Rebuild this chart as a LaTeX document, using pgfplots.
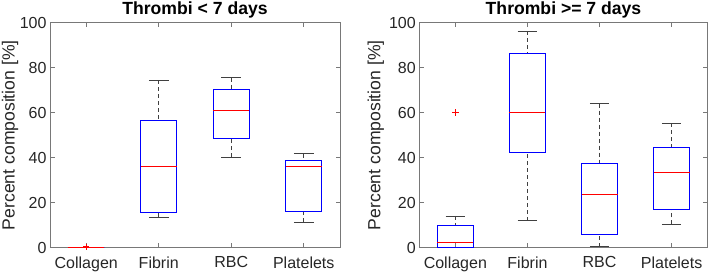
\documentclass[border=0pt]{standalone}
\usepackage{fontspec}
\setmainfont{Liberation Sans}
\usepackage{pgfplots}
\pgfplotsset{compat=1.18}
\usepgfplotslibrary{statistics}
\definecolor{axgray}{RGB}{120,120,120}
\definecolor{txtgray}{RGB}{38,38,38}
\pgfplotsset{
  boxplot/draw direction=y,
  boxplot/box extend=0.5,
  boxplot/whisker extend=0.27,
  boxplot/every box/.style={draw=blue, line width=0.8pt},
  boxplot/every median/.style={draw=red, line width=0.8pt},
  boxplot/draw/lower whisker/.code={%
    \draw[black!75, line width=0.6pt, dash pattern=on 4pt off 3pt]
      (boxplot cs:\pgfplotsboxplotvalue{lower whisker}) --
      (boxplot cs:\pgfplotsboxplotvalue{lower quartile});
    \draw[black!75, line width=0.6pt]
      (boxplot whisker cs:\pgfplotsboxplotvalue{lower whisker},0) --
      (boxplot whisker cs:\pgfplotsboxplotvalue{lower whisker},1);
  },
  boxplot/draw/upper whisker/.code={%
    \draw[black!75, line width=0.6pt, dash pattern=on 4pt off 3pt]
      (boxplot cs:\pgfplotsboxplotvalue{upper whisker}) --
      (boxplot cs:\pgfplotsboxplotvalue{upper quartile});
    \draw[black!75, line width=0.6pt]
      (boxplot whisker cs:\pgfplotsboxplotvalue{upper whisker},0) --
      (boxplot whisker cs:\pgfplotsboxplotvalue{upper whisker},1);
  },
  mybox/.style={
    scale only axis, height=225pt,
    xmin=0.5, xmax=4.5, ymin=0, ymax=100,
    xtick={1,2,3,4}, xticklabels={Collagen,Fibrin,RBC,Platelets},
    ytick={0,20,40,60,80,100},
    tick align=inside, major tick length=4.5pt,
    axis line style={axgray, line width=0.7pt},
    tick style={axgray, line width=0.7pt},
    /pgf/number format/assume math mode=true,
    ticklabel style={font=\fontsize{16}{19}\selectfont, text=txtgray},
    xticklabel style={yshift=-5.5pt},
    title style={at={(axis description cs:0.5,1)}, anchor=base, yshift=1.7pt,
      font=\fontsize{17.6}{21}\selectfont\bfseries},
    ylabel={Percent composition [\%]},
    ylabel style={font=\fontsize{17.6}{21}\selectfont, text=txtgray, inner sep=0pt},
    anchor=south west,
  },
  myplot/.style={black, mark=+, mark size=3.2pt, mark options={red, solid, line width=0.7pt}},
}
\begin{document}
\begin{tikzpicture}
\useasboundingbox (0pt,0pt) rectangle (709pt,275pt);
\begin{axis}[mybox, at={(50pt,27.3pt)}, width=290pt,
  title={Thrombi < 7 days},
  ylabel style={at={(axis description cs:0,0.5)}, anchor=south, yshift=31.5pt}]
\addplot[myplot, boxplot prepared={draw position=1, draw direction=y, lower whisker=0, lower quartile=0, median=0, upper quartile=0, upper whisker=0}] coordinates {(0,0.4)};
\addplot[myplot, boxplot prepared={draw position=2, draw direction=y, lower whisker=13.5, lower quartile=15.9, median=36.3, upper quartile=56.7, upper whisker=74.4}] coordinates {};
\addplot[myplot, boxplot prepared={draw position=3, draw direction=y, lower whisker=40.3, lower quartile=48.7, median=61.0, upper quartile=70.2, upper whisker=75.6}] coordinates {};
\addplot[myplot, boxplot prepared={draw position=4, draw direction=y, lower whisker=11.4, lower quartile=16.3, median=36.3, upper quartile=38.8, upper whisker=41.8}] coordinates {};
\end{axis}
\begin{axis}[mybox, at={(419.3pt,27.3pt)}, width=288.4pt,
  title={Thrombi >= 7 days},
  ylabel style={at={(axis description cs:0,0.5)}, anchor=south, yshift=35pt}]
\addplot[myplot, boxplot prepared={draw position=1, draw direction=y, lower whisker=0, lower quartile=0.15, median=2.4, upper quartile=9.8, upper whisker=14.1}] coordinates {(0,60.1)};
\addplot[myplot, boxplot prepared={draw position=2, draw direction=y, lower whisker=12.0, lower quartile=42.4, median=60.1, upper quartile=86.5, upper whisker=96.1}] coordinates {};
\addplot[myplot, boxplot prepared={draw position=3, draw direction=y, lower whisker=0.4, lower quartile=5.9, median=23.9, upper quartile=37.5, upper whisker=64.0}] coordinates {};
\addplot[myplot, boxplot prepared={draw position=4, draw direction=y, lower whisker=10.4, lower quartile=17.0, median=33.5, upper quartile=44.6, upper whisker=55.4}] coordinates {};
\end{axis}
\end{tikzpicture}
\end{document}
